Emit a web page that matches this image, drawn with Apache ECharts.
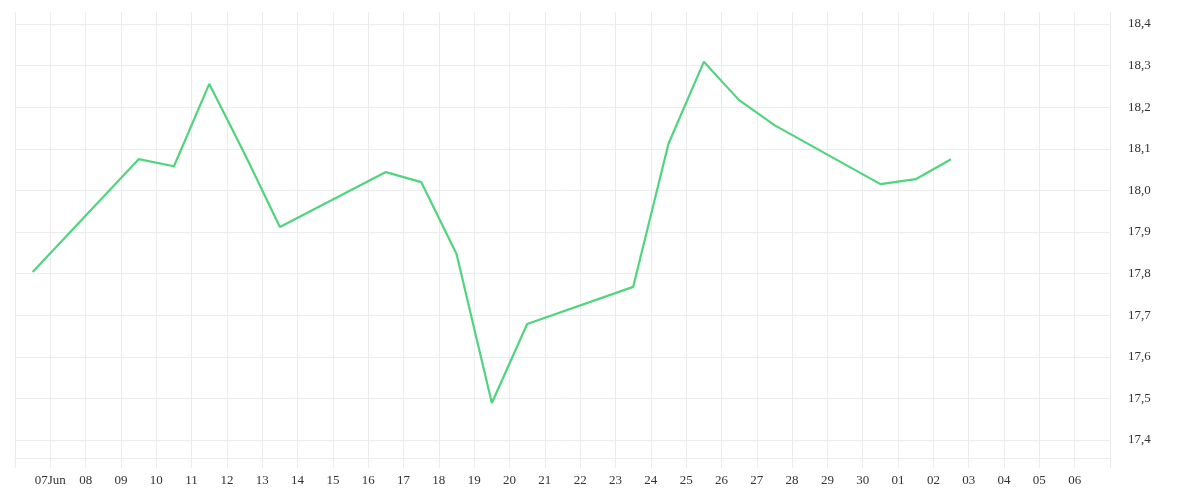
<!DOCTYPE html>
<html><head><meta charset="utf-8">
<script src="https://cdn.jsdelivr.net/npm/echarts@6/dist/echarts.min.js"></script>
<style>html,body{margin:0;padding:0;background:#fff}#c{width:1200px;height:500px}</style>
</head><body><div id="c"></div>
<script>
// day offsets from 06 Jun (0 = 06 Jun 00:00)
const dayOffsets = [0.5,3.5,4.5,5.5,6.5,7.5,10.5,11.5,12.5,13.5,14.5,17.5,18.5,19.5,20.5,21.5,24.5,25.5,26.5];
const values = [17.804,18.075,18.058,18.256,18.088,17.912,18.044,18.020,17.847,17.489,17.679,17.768,18.112,18.309,18.217,18.157,18.015,18.027,18.075];
const dayLabels = ['','07Jun','08','09','10','11','12','13','14','15','16','17','18','19','20','21','22','23','24','25','26','27','28','29','30','01','02','03','04','05','06',''];
const yTicks = [17.4,18.4,0.1];

const font = 'Liberation Serif';
const grid = '#ececec';
const chart = echarts.init(document.getElementById('c'));
chart.setOption({
  animation:false,
  grid:[
    {left:15,right:90,top:24,height:416},
    {left:15,right:90,top:12,height:446}
  ],
  xAxis:[
    {gridIndex:0,type:'value',min:0,max:31,interval:1,show:false},
    {gridIndex:1,type:'value',min:0,max:31,interval:1,
     axisLine:{show:true,lineStyle:{color:grid}},
     axisTick:{show:true,length:10,lineStyle:{color:grid}},
     splitLine:{show:true,lineStyle:{color:grid}},
     axisLabel:{fontFamily:font,fontSize:13,color:'#333',margin:16,
       formatter:v=>dayLabels[Math.round(v)]||''}}
  ],
  yAxis:[
    {gridIndex:0,type:'value',position:'right',min:yTicks[0],max:yTicks[1],interval:yTicks[2],
     axisLine:{show:false},axisTick:{show:false},
     splitLine:{show:true,lineStyle:{color:grid}},
     axisLabel:{fontFamily:font,fontSize:13,color:'#333',margin:18,padding:[6,0,0,0],
       formatter:v=>v.toFixed(1).replace('.',',')}},
    {gridIndex:1,type:'value',min:0,max:1,show:false}
  ],
  series:[{
    type:'line',xAxisIndex:0,yAxisIndex:0,
    data:dayOffsets.map((d,i)=>[d,values[i]]),
    showSymbol:false,lineStyle:{color:'#50d47e',width:2.2},itemStyle:{color:'#50d47e'}
  }]
});
</script></body></html>
